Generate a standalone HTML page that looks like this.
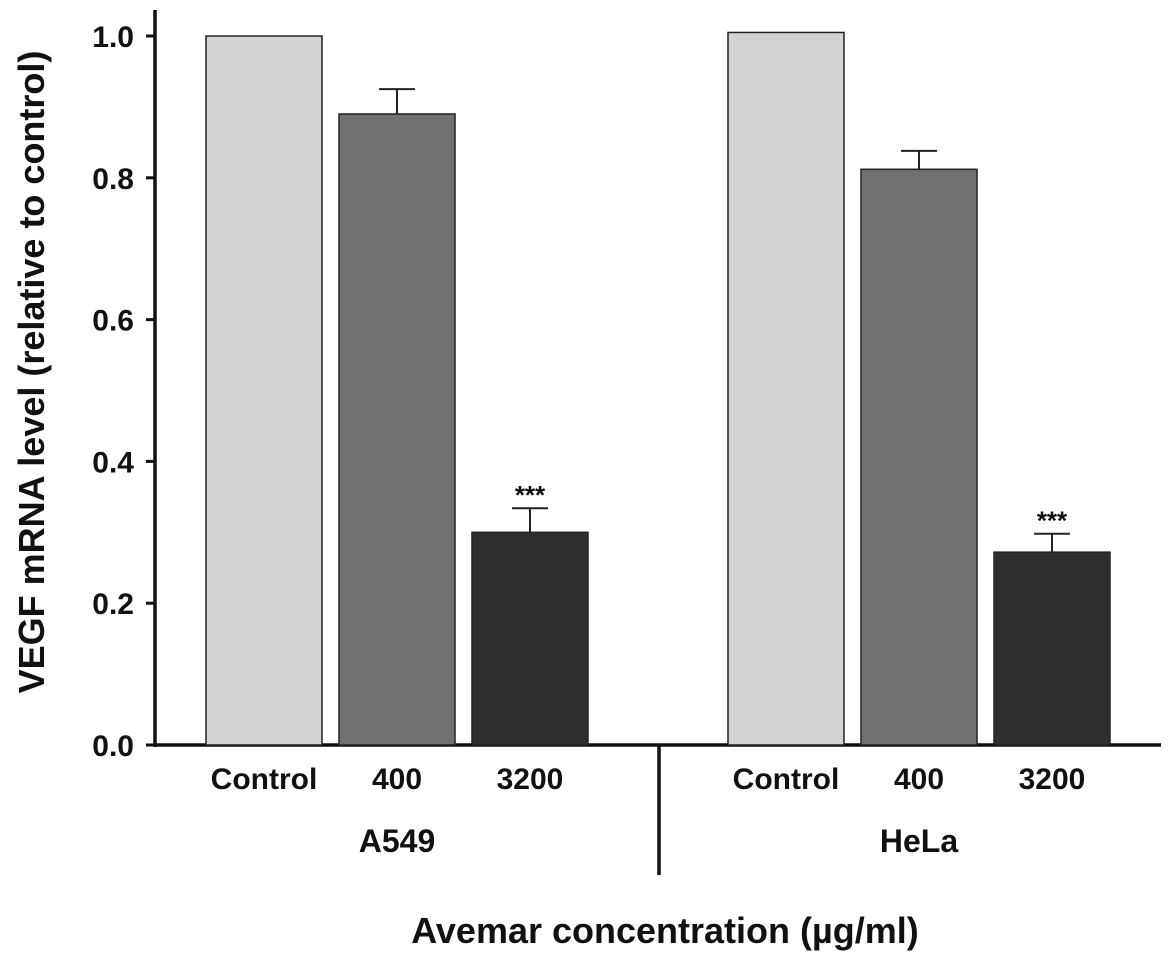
<!DOCTYPE html>
<html><head><meta charset="utf-8"><style>
body{margin:0;background:#fff}
svg{display:block;font-family:"Liberation Sans",Arial,sans-serif;font-weight:bold}
</style></head><body>
<svg id="chart" width="1172" height="960" viewBox="0 0 1172 960" xmlns="http://www.w3.org/2000/svg"></svg>
<script>
const categories = ["Control","400","3200"];
const groups = ["A549","HeLa"];
const a549Values = [1.0, 0.89, 0.30];
const a549Errors = [0, 0.035, 0.034];
const helaValues = [1.005, 0.812, 0.272];
const helaErrors = [0, 0.026, 0.026];
const yTicks = [0.0,0.2,0.4,0.6,0.8,1.0];
const sigLabels = ["","","***"];

const NS="http://www.w3.org/2000/svg";
const svg=document.getElementById('chart');
const y0=745, yScale=709;
const y=v=>y0-v*yScale;
const groupStart=[206,728], barW=116, barStep=133;
const fills=["#d3d3d3","#717171","#2f2f2f"];
function el(tag,attrs,parent){const e=document.createElementNS(NS,tag);for(const k in attrs)e.setAttribute(k,attrs[k]);(parent||svg).appendChild(e);return e;}

let a=el('line',{x1:155,y1:10,x2:155,y2:747,stroke:'#111','stroke-width':3.5});


a=el('line',{x1:154,y1:745,x2:1161,y2:745,stroke:'#111','stroke-width':3.5});


a=el('line',{x1:659,y1:745,x2:659,y2:875,stroke:'#111','stroke-width':3.5});



yTicks.forEach(t=>{
  let l=el('line',{x1:146,y1:y(t),x2:155,y2:y(t),stroke:'#111','stroke-width':3});
  
  
  let tx=el('text',{x:134,y:y(t)+11,'text-anchor':'end','font-size':30,fill:'#111'});
  tx.textContent=t.toFixed(1);
  
  
});

[[a549Values,a549Errors],[helaValues,helaErrors]].forEach((d,g)=>{
  d[0].forEach((v,i)=>{
    const x=groupStart[g]+i*barStep, e=d[1][i];
    if(e>0){
      const cx=x+barW/2;
      let el1=el('line',{x1:cx,y1:y(v),x2:cx,y2:y(v+e),stroke:'#222','stroke-width':2});
      
      
      let el2=el('line',{x1:cx-18,y1:y(v+e),x2:cx+18,y2:y(v+e),stroke:'#222','stroke-width':2});
      
      
    }
    let r=el('rect',{x:x,y:y(v),width:barW,height:y0-y(v),fill:fills[i],stroke:'#222','stroke-width':1.5});
    
    
    if(sigLabels[i]){
      let s=el('text',{x:x+barW/2,y:y(v+e)-4,'text-anchor':'middle','font-size':26,fill:'#111'});
      s.textContent=sigLabels[i];
      
      
    }
    let c=el('text',{x:x+barW/2,y:789,'text-anchor':'middle','font-size':30,fill:'#111'});
    c.textContent=categories[i];
    
    
  });
  let gl=el('text',{x:groupStart[g]+barStep+barW/2,y:852,'text-anchor':'middle','font-size':32,fill:'#111'});
  gl.textContent=groups[g];
  
  
});

let xt=el('text',{x:665,y:943,'text-anchor':'middle','font-size':36,fill:'#111'});
xt.textContent='Avemar concentration (µg/ml)';


let yt=el('text',{x:0,y:0,'text-anchor':'middle','font-size':36,fill:'#111',transform:'translate(44,372) rotate(-90)'});
yt.textContent='VEGF mRNA level (relative to control)';


</script>
</body></html>
